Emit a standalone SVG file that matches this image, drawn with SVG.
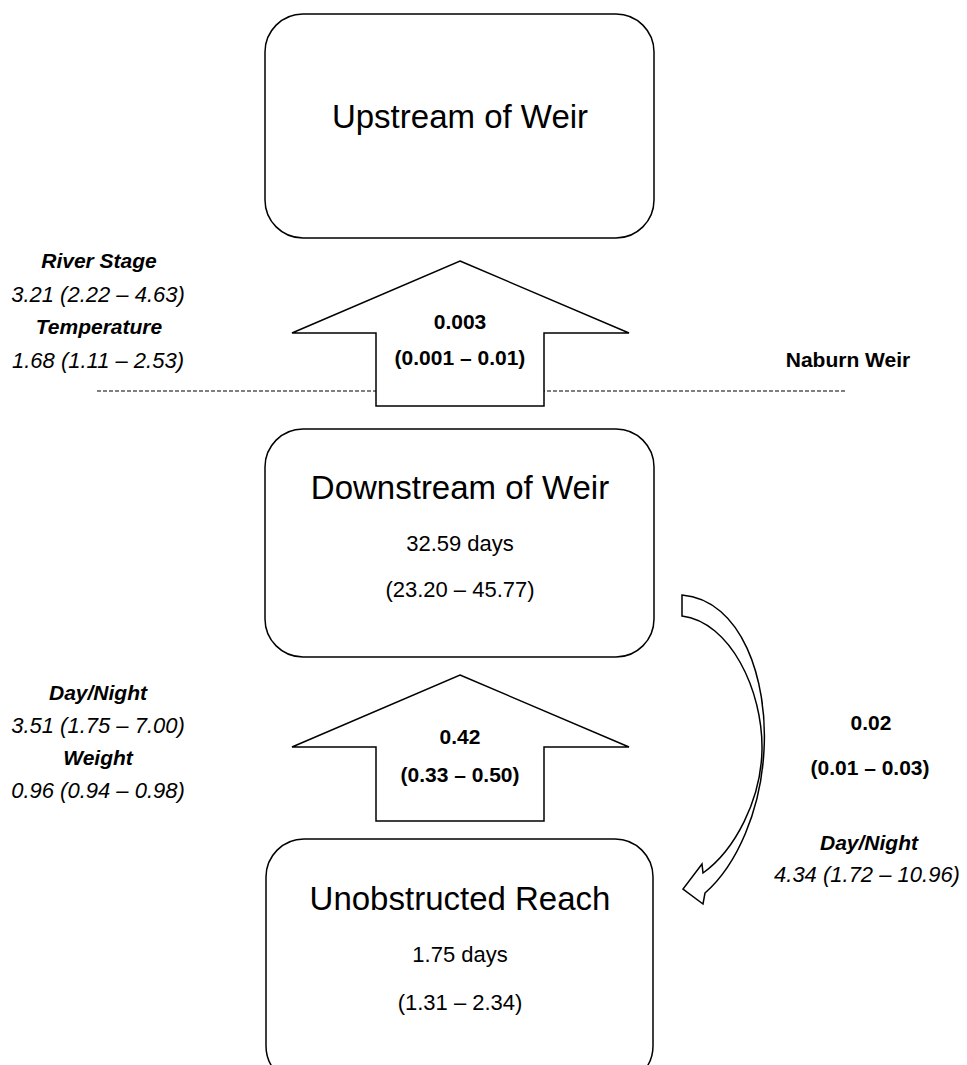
<svg xmlns="http://www.w3.org/2000/svg" width="967" height="1065" viewBox="0 0 967 1065">
<style>
.box{fill:#fff;stroke:#000;stroke-width:1.5}
.blk{fill:#fff;stroke:#000;stroke-width:1.5;stroke-linejoin:miter}
.t{font-family:"Liberation Sans",Arial,sans-serif;fill:#000;text-anchor:middle}
.title{font-size:33px}
.sub{font-size:22px}
.b{font-weight:bold;font-size:21px}
.bi{font-weight:bold;font-style:italic;font-size:21px}
.i{font-style:italic;font-size:22px}
</style>
<rect width="967" height="1065" fill="#fff"/>
<line x1="97" y1="391" x2="847" y2="391" stroke="#000" stroke-width="1" stroke-dasharray="4,2"/>
<g id="upstream">
<rect class="box" x="265" y="14" width="389" height="224" rx="38"/>
<text class="t title" x="460" y="128">Upstream of Weir</text>
</g>
<g id="downstream">
<rect class="box" x="265" y="429" width="389" height="228" rx="38"/>
<text class="t title" x="460" y="499">Downstream of Weir</text>
<text class="t sub" x="460" y="551">32.59 days</text>
<text class="t sub" x="460" y="597">(23.20 – 45.77)</text>
</g>
<g id="unobstructed">
<rect class="box" x="266" y="839" width="387" height="245" rx="38"/>
<text class="t title" x="460" y="910">Unobstructed Reach</text>
<text class="t sub" x="460" y="962">1.75 days</text>
<text class="t sub" x="460" y="1010">(1.31 – 2.34)</text>
</g>
<g id="connectors">
<path class="blk" d="M460,261 L629,333 L544,333 L544,406 L376,406 L376,333 L292,333 Z"/>
<path class="blk" d="M460,675 L629,747 L544,747 L544,821 L376,821 L376,747 L292,747 Z"/>
<path class="blk" stroke-linejoin="round" d="M682,595 C742,600 768,680 764,750 C761,810 737,865 705,893 L703,904 L683,889 L702,864 L703,873 C735,850 761,800 762,750 C763,690 730,622 682,616 Z"/>
</g>
<g id="labels">
<text class="t b" x="460" y="329">0.003</text>
<text class="t b" x="460" y="365">(0.001 – 0.01)</text>
<text class="t b" x="460" y="744">0.42</text>
<text class="t b" x="460" y="782">(0.33 – 0.50)</text>
<text class="t bi" x="99" y="268">River Stage</text>
<text class="t i" x="98" y="302">3.21 (2.22 – 4.63)</text>
<text class="t bi" x="99" y="334">Temperature</text>
<text class="t i" x="98" y="368">1.68 (1.11 – 2.53)</text>
<text class="t b" x="848" y="367">Naburn Weir</text>
<text class="t bi" x="98" y="700">Day/Night</text>
<text class="t i" x="98" y="733">3.51 (1.75 – 7.00)</text>
<text class="t bi" x="98" y="765">Weight</text>
<text class="t i" x="98" y="798">0.96 (0.94 – 0.98)</text>
<text class="t b" x="871" y="730">0.02</text>
<text class="t b" x="870" y="775">(0.01 – 0.03)</text>
<text class="t bi" x="869" y="850">Day/Night</text>
<text class="t i" x="867" y="882">4.34 (1.72 – 10.96)</text>
</g>
</svg>
